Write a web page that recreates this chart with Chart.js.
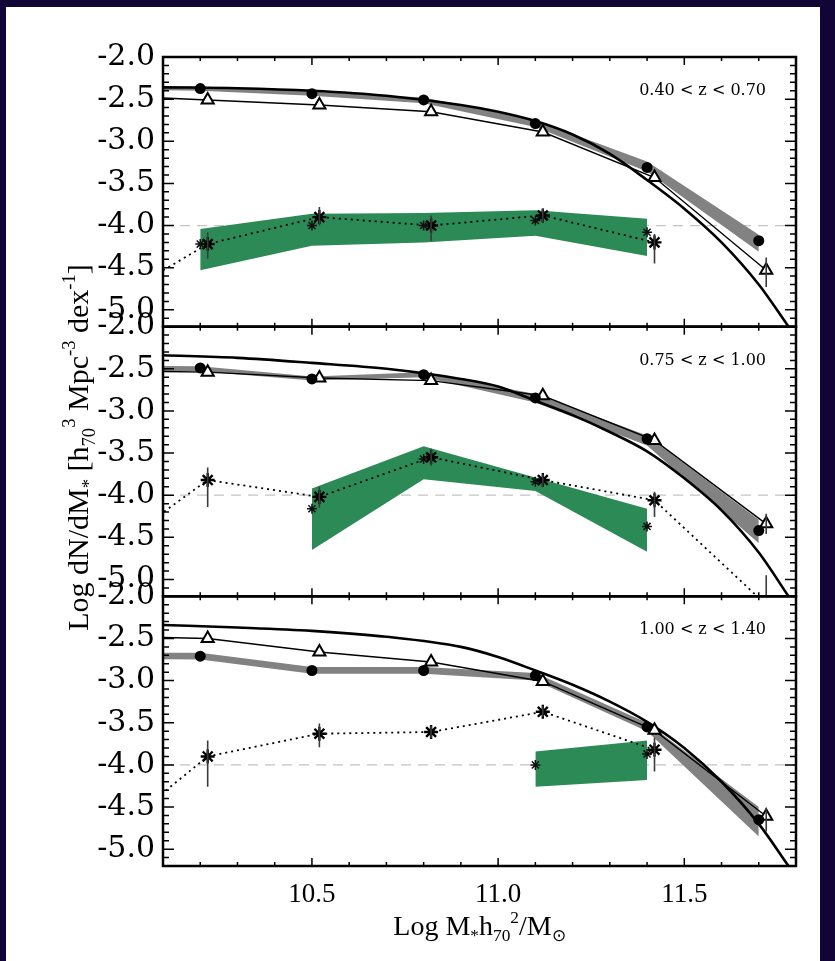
<!DOCTYPE html>
<html>
<head>
<meta charset="utf-8">
<title>Stellar mass function</title>
<script src="https://cdn.jsdelivr.net/npm/chart.js@4.4.1/dist/chart.umd.min.js"></script>
<style>
  body { margin: 0; background: #110538; width: 835px; height: 961px; overflow: hidden; }
  #sheet { position: absolute; left: 6px; top: 7px; width: 814px; height: 954px; background: #fff; }
  canvas { display: block; }
</style>
</head>
<body>
<div id="sheet"><canvas id="massFunction" width="814" height="954"></canvas></div>
<script>
// redshift slices, top to bottom
const redshiftBins = ['0.40 < z < 0.70', '0.75 < z < 1.00', '1.00 < z < 1.40'];

// tick labels
const massTicks = [10.5, 11.0, 11.5];
const densityTicks = [-5.0, -4.5, -4.0, -3.5, -3.0, -2.5, -2.0];
const refLevel = -4.0;

// mass bins; triangles and asterisks sit 0.02 dex to the right
const binMass = [9.9, 10.2, 10.5, 10.8, 11.1, 11.4, 11.7];
const binMassShifted = [9.92, 10.22, 10.52, 10.82, 11.12, 11.42, 11.72];
const greenMass = [10.2, 10.5, 10.8, 11.1, 11.4];
const fitMass = [10.1, 10.3, 10.5, 10.7, 10.9, 11.0, 11.1, 11.2, 11.3, 11.4, 11.5, 11.6, 11.7, 11.78];

// Schechter fits (thick line)
const fit1 = [-2.36, -2.37, -2.40, -2.46, -2.57, -2.65, -2.76, -2.92, -3.15, -3.46, -3.80, -4.20, -4.70, -5.20];
const fit2 = [-2.34, -2.37, -2.43, -2.50, -2.62, -2.71, -2.88, -3.05, -3.25, -3.48, -3.80, -4.18, -4.68, -5.20];
const fit3 = [-2.34, -2.37, -2.41, -2.48, -2.60, -2.72, -2.88, -3.05, -3.25, -3.49, -3.80, -4.20, -4.70, -5.20];

// filled circles and their grey band
const circles1 = [null, -2.375, -2.435, -2.51, -2.79, -3.31, -4.18];
const circles2 = [null, -2.49, -2.62, -2.57, -2.845, -3.33, -4.42];
const circles3 = [null, -2.71, -2.88, -2.88, -2.94, -3.55, -4.65];
const greyHi1 = [-2.33, -2.35, -2.41, -2.48, -2.75, -3.24, -4.11];
const greyLo1 = [-2.38, -2.40, -2.46, -2.55, -2.83, -3.36, -4.31];
const greyHi2 = [-2.46, -2.47, -2.59, -2.54, -2.80, -3.29, -4.29];
const greyLo2 = [-2.52, -2.53, -2.64, -2.60, -2.90, -3.41, -4.57];
const greyHi3 = [-2.67, -2.67, -2.84, -2.84, -2.91, -3.50, -4.50];
const greyLo3 = [-2.74, -2.75, -2.92, -2.92, -3.00, -3.60, -4.85];

// open triangles
const triangles1 = [-2.45, -2.51, -2.57, -2.65, -2.89, -3.43, -4.53];
const triangles2 = [-2.52, -2.54, -2.61, -2.64, -2.82, -3.35, -4.34];
const triangles3 = [-2.47, -2.50, -2.66, -2.78, -3.01, -3.59, -4.61];
const triErrLo1 = [null, null, null, null, null, null, -4.73];
const triErrHi1 = [null, null, null, null, null, null, -4.38];
const triErrLo2 = [null, null, null, null, null, null, -4.46];
const triErrHi2 = [null, null, null, null, null, null, -4.22];
const triErrLo3 = [null, null, null, null, null, null, -4.79];
const triErrHi3 = [null, null, null, null, null, null, -4.51];

// asterisks joined by the dotted line
const stars1 = [-5.00, -4.22, -3.90, -4.00, -3.88, -4.20, null];
const stars2 = [-4.78, -3.82, -4.02, -3.55, -3.82, -4.06, -5.30];
const stars3 = [-4.98, -3.90, -3.63, -3.61, -3.37, -3.82, null];
const starErrLo1 = [null, -4.39, -4.00, -4.18, -3.96, -4.45, null];
const starErrHi1 = [null, -4.08, -3.78, -3.88, -3.80, -4.10, null];
const starErrLo2 = [null, -4.14, -4.15, -3.65, -3.90, -4.26, -5.65];
const starErrHi2 = [null, -3.67, -3.90, -3.45, -3.75, -3.96, -4.95];
const starErrLo3 = [null, -4.26, -3.79, -3.68, -3.43, -4.08, null];
const starErrHi3 = [null, -3.71, -3.51, -3.54, -3.30, -3.68, null];

// small asterisks inside the green band
const crosses1 = [-4.22, -4.00, -4.00, -3.94, -4.08];
const crosses2 = [null, -4.16, -3.57, -3.84, -4.37];
const crosses3 = [null, null, null, -4.00, -3.87];

// green band
const greenHi1 = [-4.04, -3.86, -3.85, -3.82, -3.92];
const greenLo1 = [-4.53, -4.24, -4.20, -4.12, -4.36];
const greenHi2 = [null, -3.92, -3.42, -3.79, -4.16];
const greenLo2 = [null, -4.65, -3.81, -3.95, -4.67];
const greenHi3 = [null, null, null, -3.84, -3.71];
const greenLo3 = [null, null, null, -4.26, -4.18];

const panelIds = ['p1', 'p2', 'p3'];
const panels = [
  { fit: fit1, circles: circles1, greyHi: greyHi1, greyLo: greyLo1, tri: triangles1, triLo: triErrLo1, triHi: triErrHi1,
    stars: stars1, starLo: starErrLo1, starHi: starErrHi1, crosses: crosses1, greenHi: greenHi1, greenLo: greenLo1 },
  { fit: fit2, circles: circles2, greyHi: greyHi2, greyLo: greyLo2, tri: triangles2, triLo: triErrLo2, triHi: triErrHi2,
    stars: stars2, starLo: starErrLo2, starHi: starErrHi2, crosses: crosses2, greenHi: greenHi2, greenLo: greenLo2 },
  { fit: fit3, circles: circles3, greyHi: greyHi3, greyLo: greyLo3, tri: triangles3, triLo: triErrLo3, triHi: triErrHi3,
    stars: stars3, starLo: starErrLo3, starHi: starErrHi3, crosses: crosses3, greenHi: greenHi3, greenLo: greenLo3 }
];

const massMin = 10.1;
const massMax = 11.8;
const green = 'rgb(44, 138, 86)';
const grey = 'rgb(130, 130, 130)';
const clear = 'rgba(0, 0, 0, 0)';

/**
 * pair x and y arrays into points, dropping empty entries
 */
const pts = (xs, ys) => xs.map((x, i) => ({ x, y: ys[i] })).filter(p => p.y !== null);

/**
 * vertical error bars from low/high arrays
 */
const bars = (xs, lo, hi) => xs.map((x, i) => ({ x, lo: lo[i], hi: hi[i] })).filter(e => e.lo !== null);

// build the datasets for one redshift slice
const panelDatasets = (p, id) => {
  const base = { xAxisID: 'x', yAxisID: id, pointRadius: 0, tension: 0 };
  return [
    { ...base, order: 20, data: [{ x: massMin, y: refLevel }, { x: massMax, y: refLevel }],
      borderColor: '#c4c4c4', borderWidth: 1.2, borderDash: [10, 7] },
    { ...base, order: 19, data: pts(greenMass, p.greenHi), borderColor: clear, fill: '+1', backgroundColor: green },
    { ...base, order: 19, data: pts(greenMass, p.greenLo), borderColor: clear, fill: false },
    { ...base, order: 18, data: pts(binMass, p.greyHi), borderColor: clear, fill: '+1', backgroundColor: grey },
    { ...base, order: 18, data: pts(binMass, p.greyLo), borderColor: clear, fill: false },
    { ...base, order: 15, data: pts(fitMass, p.fit), borderColor: '#000', borderWidth: 2.6, cubicInterpolationMode: 'monotone' },
    { ...base, order: 6, data: pts(binMassShifted, p.tri), borderColor: '#000', borderWidth: 1.4,
      pointStyle: 'triangle', pointRadius: 7, pointBackgroundColor: '#fff', pointBorderColor: '#000', pointBorderWidth: 2,
      errorBars: bars(binMassShifted, p.triLo, p.triHi) },
    { ...base, order: 5, data: pts(binMass, p.circles), showLine: false,
      pointStyle: 'circle', pointRadius: 5.5, pointBackgroundColor: '#000', pointBorderColor: '#000', pointBorderWidth: 0 },
    { ...base, order: 4, data: pts(binMassShifted, p.stars), borderColor: '#000', borderWidth: 1.8, borderDash: [2, 4],
      pointStyle: 'star', pointRadius: 7, pointBorderColor: '#000', pointBorderWidth: 2.4,
      errorBars: bars(binMassShifted, p.starLo, p.starHi) },
    { ...base, order: 3, data: pts(greenMass, p.crosses), showLine: false,
      pointStyle: 'star', pointRadius: 5, pointBorderColor: '#111', pointBorderWidth: 1.5 }
  ];
};

/**
 * draw a line of text with sub- and superscripts, centred on the origin
 */
const drawRich = (ctx, parts, size, family) => {
  const pieces = parts.map(p => {
    const s = p.sub || p.sup ? size * 0.62 : size;
    ctx.font = `${s}px ${family}`;
    return { ...p, s, w: ctx.measureText(p.t).width };
  });
  let x = -pieces.reduce((a, p) => a + p.w, 0) / 2;
  pieces.forEach(p => {
    ctx.font = `${p.s}px ${family}`;
    const dy = p.sub ? size * 0.22 : p.sup ? -size * 0.42 : 0;
    ctx.fillText(p.t, x, dy);
    x += p.w;
  });
};

const yTitle = [
  { t: 'Log dN/dM' }, { t: '*', sub: true }, { t: ' [h' }, { t: '70', sub: true }, { t: '3', sup: true },
  { t: ' Mpc' }, { t: '-3', sup: true }, { t: ' dex' }, { t: '-1', sup: true }, { t: ']' }
];
const xTitle = [
  { t: 'Log M' }, { t: '*', sub: true }, { t: 'h' }, { t: '70', sub: true }, { t: '2', sup: true },
  { t: '/M' }, { t: '\u2299', sub: true }
];

// frames with inward ticks, error bars, slice labels and axis titles
const panelFrame = {
  id: 'panelFrame',
  afterDatasetsDraw(chart) {
    const ctx = chart.ctx;
    const xs = chart.scales.x;

    chart.data.datasets.forEach(ds => {
      if (!ds.errorBars) return;
      const ys = chart.scales[ds.yAxisID];
      ctx.save();
      ctx.beginPath();
      ctx.rect(xs.left, ys.top, xs.right - xs.left, ys.bottom - ys.top);
      ctx.clip();
      ctx.strokeStyle = '#3a3a3a';
      ctx.lineWidth = 1.6;
      ds.errorBars.forEach(e => {
        const px = xs.getPixelForValue(e.x);
        ctx.beginPath();
        ctx.moveTo(px, ys.getPixelForValue(e.lo));
        ctx.lineTo(px, ys.getPixelForValue(e.hi));
        ctx.stroke();
      });
      ctx.restore();
    });

    panelIds.forEach((id, i) => {
      const ys = chart.scales[id];
      ctx.save();
      ctx.strokeStyle = '#000';
      ctx.lineWidth = 1.5;
      ctx.beginPath();
      // y ticks every 0.1, longer every 0.5
      for (let k = Math.ceil(ys.min * 10 - 1e-6); k <= Math.floor(ys.max * 10 + 1e-6); k++) {
        const py = ys.getPixelForValue(k / 10);
        const len = k % 5 === 0 ? 11 : 6;
        ctx.moveTo(xs.left, py);
        ctx.lineTo(xs.left + len, py);
        ctx.moveTo(xs.right, py);
        ctx.lineTo(xs.right - len, py);
      }
      // x ticks on top and bottom of each slice
      for (let k = Math.ceil(xs.min * 10 + 1e-6); k < Math.floor(xs.max * 10 - 1e-6) + 1; k++) {
        const px = xs.getPixelForValue(k / 10);
        const len = k % 5 === 0 ? 8 : 4;
        ctx.moveTo(px, ys.top);
        ctx.lineTo(px, ys.top + len);
        ctx.moveTo(px, ys.bottom);
        ctx.lineTo(px, ys.bottom - len);
      }
      ctx.stroke();
      ctx.lineWidth = 2.5;
      ctx.strokeRect(xs.left, ys.top, xs.right - xs.left, ys.bottom - ys.top);

      ctx.fillStyle = '#000';
      ctx.font = '16px "DejaVu Serif"';
      ctx.textAlign = 'right';
      ctx.textBaseline = 'middle';
      ctx.fillText(redshiftBins[i], xs.right - 30, ys.top + 34);
      ctx.restore();
    });

    const mid = chart.scales.p2;
    ctx.save();
    ctx.fillStyle = '#000';
    ctx.textBaseline = 'alphabetic';
    ctx.translate(82, (mid.top + mid.bottom) / 2 - 14);
    ctx.rotate(-Math.PI / 2);
    drawRich(ctx, yTitle, 30, '"Liberation Serif"');
    ctx.restore();

    ctx.save();
    ctx.fillStyle = '#000';
    ctx.textBaseline = 'alphabetic';
    ctx.translate((xs.left + xs.right) / 2, 928);
    drawRich(ctx, xTitle, 28, '"Liberation Serif"');
    ctx.restore();
  }
};

// one stacked y axis per redshift slice
const sliceAxis = weight => ({
  type: 'linear',
  position: 'left',
  stack: 'slices',
  stackWeight: 1,
  weight,
  min: -5.2,
  max: -2.0,
  grid: { display: false, drawTicks: false },
  border: { display: false },
  afterBuildTicks: scale => { scale.ticks = densityTicks.map(value => ({ value })); },
  afterFit: scale => { scale.width = 157; },
  ticks: {
    autoSkip: false,
    padding: 8,
    color: '#000',
    font: { family: '"DejaVu Serif"', size: 30 },
    callback: v => v.toFixed(1)
  }
});

const datasets = panels.flatMap((p, i) => panelDatasets(p, panelIds[i]));

const chart = new Chart(document.getElementById('massFunction'), {
  type: 'line',
  data: { datasets },
  options: {
    responsive: false,
    animation: false,
    devicePixelRatio: 1,
    events: [],
    layout: { padding: { top: 50, right: 24, left: 0, bottom: 0 } },
    plugins: { legend: { display: false }, tooltip: { enabled: false } },
    scales: {
      x: {
        type: 'linear',
        position: 'bottom',
        min: massMin,
        max: massMax,
        grid: { display: false, drawTicks: false },
        border: { display: false },
        afterBuildTicks: scale => { scale.ticks = massTicks.map(value => ({ value })); },
        afterFit: scale => { scale.height = 95; },
        ticks: {
          autoSkip: false,
          maxRotation: 0,
          padding: 13,
          color: '#000',
          font: { family: '"Liberation Serif"', size: 27 },
          callback: v => v.toFixed(1)
        }
      },
      p1: sliceAxis(3),
      p2: sliceAxis(2),
      p3: sliceAxis(1)
    }
  },
  plugins: [panelFrame]
});
</script>
</body>
</html>
